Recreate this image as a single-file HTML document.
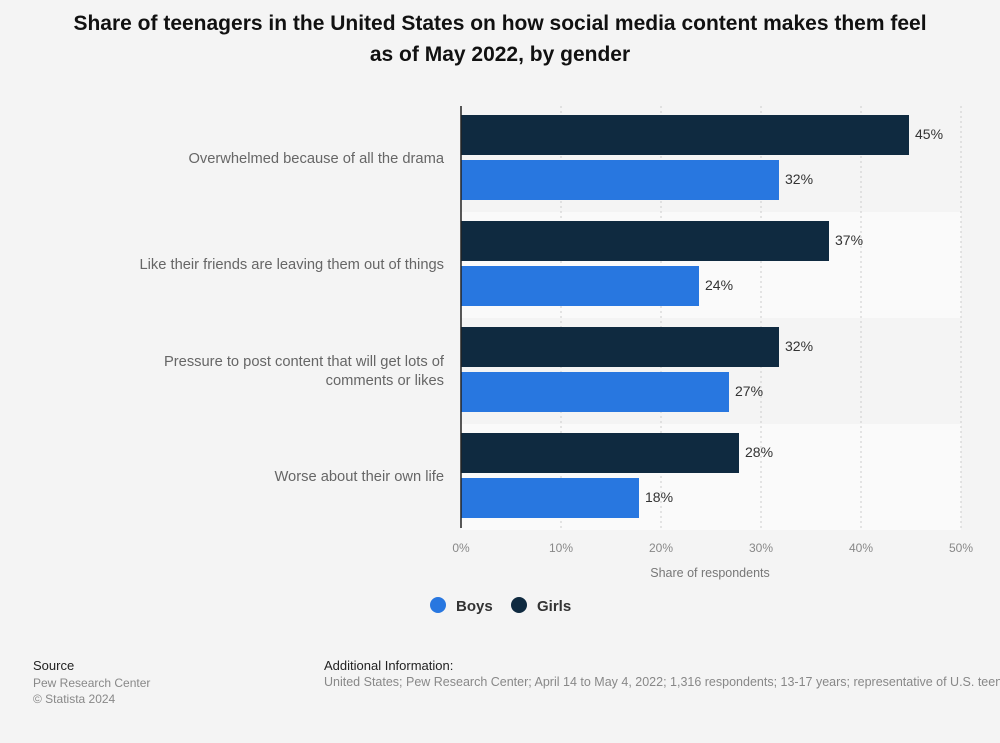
<!DOCTYPE html>
<html><head><meta charset="utf-8"><style>
body{margin:0;background:#f4f4f4;font-family:"Liberation Sans",sans-serif;}
#wrap{position:relative;width:1000px;height:743px;overflow:hidden;background:#f4f4f4;}
.t{position:absolute;white-space:nowrap;}
</style></head><body>
<div id="wrap">
<div class="t" style="left:0;width:1000px;top:8px;text-align:center;font-weight:bold;font-size:21px;line-height:31px;color:#111;">Share of teenagers in the United States on how social media content makes them feel<br>as of May 2022, by gender</div>
<svg id="chart" width="1000" height="743" style="position:absolute;left:0;top:0"></svg>
<div class="t" style="left:33px;top:658px;font-size:13px;color:#222;">Source</div>
<div class="t" style="left:33px;top:675px;font-size:12px;color:#888;line-height:16px;">Pew Research Center<br>© Statista 2024</div>
<div class="t" style="left:324px;top:658px;font-size:13px;color:#222;">Additional Information:</div>
<div class="t" style="left:324px;top:675px;font-size:12.5px;color:#888;">United States; Pew Research Center; April 14 to May 4, 2022; 1,316 respondents; 13-17 years; representative of U.S. teens</div>
</div>
<script>
const categories=[["Overwhelmed because of all the drama"],["Like their friends are leaving them out of things"],["Pressure to post content that will get lots of","comments or likes"],["Worse about their own life"]];
const girls=[45,37,32,28];
const boys=[32,24,27,18];
const ticks=[0,10,20,30,40,50];
const NS="http://www.w3.org/2000/svg";
const svg=document.getElementById('chart');
const x0=461,x1=961,top0=106,band=106;
const xs=v=>x0+(v-0)/(50-0)*(x1-x0);
function mk(tag,attrs,txt){const e=document.createElementNS(NS,tag);for(const k in attrs)e.setAttribute(k,attrs[k]);if(txt!=null)e.textContent=txt;svg.appendChild(e);return e;}
categories.forEach((c,i)=>{
  const y=top0+i*band;
  if(i%2==1){const r=mk('rect',{x:x0,y:y,width:x1-x0,height:band,fill:'#fafafa'});
  
  }
});
ticks.forEach(t=>{
  if(t>0){const l=mk('line',{x1:xs(t),x2:xs(t),y1:top0,y2:top0+4*band,stroke:'#ccc','stroke-dasharray':'2,3'});
  
  }
  const tl=mk('text',{x:xs(t),y:552,'text-anchor':'middle','font-size':12,fill:'#888'},t+'%');
  
  
});
categories.forEach((c,i)=>{
  const y=top0+i*band;
  const g=mk('rect',{x:x0,y:y+9,width:xs(girls[i])-x0-2,height:40,fill:'#0f2a40'});
  
  
  const b=mk('rect',{x:x0,y:y+54,width:xs(boys[i])-x0-2,height:40,fill:'#2877e0'});
  
  
  const gl=mk('text',{x:xs(girls[i])+4,y:y+33,'font-size':14,fill:'#333'},girls[i]+'%');
  
  
  const bl=mk('text',{x:xs(boys[i])+4,y:y+78,'font-size':14,fill:'#333'},boys[i]+'%');
  
  
  const cy=y+band/2+4-(c.length-1)*9;
  c.forEach((line,j)=>{
    const ct=mk('text',{x:444,y:cy+j*19,'text-anchor':'end','font-size':14.7,fill:'#666'},line);
    
    
  });
});
const ax=mk('line',{x1:x0,x2:x0,y1:top0,y2:top0+4*band-2,stroke:'#222','stroke-width':1.5});


const at=mk('text',{x:710,y:577,'text-anchor':'middle','font-size':12.5,fill:'#777'},'Share of respondents');


const lb=mk('circle',{cx:438,cy:605,r:8,fill:'#2877e0'});


const lbt=mk('text',{x:456,y:611,'font-size':15,'font-weight':'bold',fill:'#333'},'Boys');


const lg=mk('circle',{cx:519,cy:605,r:8,fill:'#0f2a40'});


const lgt=mk('text',{x:537,y:611,'font-size':15,'font-weight':'bold',fill:'#333'},'Girls');


</script>
</body></html>
